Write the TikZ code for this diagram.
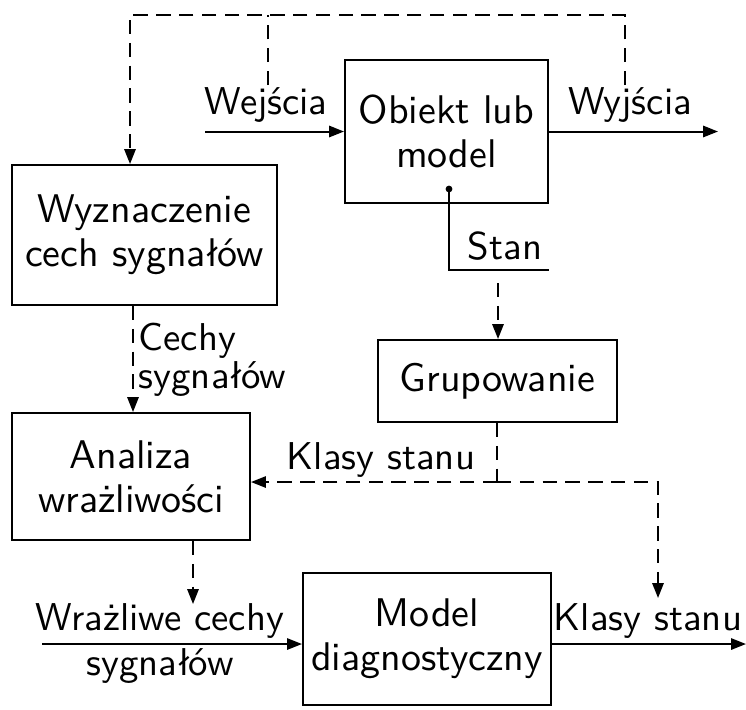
\documentclass[tikz,border=0pt]{standalone}
\usepackage{fontspec}
\usetikzlibrary{arrows.meta}
\begin{document}
\begin{tikzpicture}[x=0.25pt,y=-0.25pt,
  every node/.style={font=\sffamily\fontsize{10}{11}\selectfont},
  blk/.style={draw,line width=0.5pt,align=center,inner sep=0pt},
  lbl/.style={inner sep=0pt,align=center,font=\sffamily\fontsize{9.7}{11}\selectfont},
  ln/.style={line width=0.5pt},
  dsh/.style={line width=0.5pt,dash pattern=on 3.6pt off 2.1pt},
  tip/.style={-{Triangle[length=3.7pt,width=2.8pt]}}]
\useasboundingbox (0,0) rectangle (746,709);

% blocks
\node[blk,minimum width=50.75pt,minimum height=35.75pt] (obj) at (446.5,131.5) {Obiekt lub\\model};
\node[blk,minimum width=66.25pt,minimum height=35pt] (wyz) at (144.5,235) {Wyznaczenie\\cech sygnałów};
\node[blk,minimum width=59.75pt,minimum height=20.5pt] (grup) at (497.5,381) {Grupowanie};
\node[blk,minimum width=59.5pt,minimum height=31.75pt] (anal) at (131,476.5) {Analiza\\wrażliwości};
\node[blk,minimum width=62pt,minimum height=33pt] (model) at (427,639) {Model\\diagnostyczny};

% free ends
\coordinate (inW) at (205,131.5);
\coordinate (outW) at (718,131.5);
\coordinate (wejTap) at (268,85);
\coordinate (wyjTap) at (625,85);
\coordinate (topL) at (130,15);
\coordinate (dot) at (449,189);
\coordinate (stanEnd) at (549,270);
\coordinate (stanTap) at (498,283);
\coordinate (kJ) at (497,482);
\coordinate (kTip) at (658,598);
\coordinate (wrTip) at (193,604);
\coordinate (cechX) at (133,0);
\coordinate (inM) at (42,644);
\coordinate (outM) at (746,644);

% input / output of the object
\draw[ln,tip] (inW) -- (obj.west |- inW);
\draw[ln,tip] (obj.east |- outW) -- (outW);
\node[lbl] (wej) at (266,105) {Wejścia};
\node[lbl] (wyj) at (630,105) {Wyjścia};

% measured signals fed back
\draw[dsh,tip] (wyjTap) |- (topL) -- (wyz.north -| topL);
\draw[dsh] (wejTap) -- (wejTap |- topL);

% state output
\fill (dot) circle (0.85pt);
\draw[ln] (dot) |- (stanEnd);
\node[lbl] (stan) at (505,246) {Stan};
\draw[dsh,tip] (stanTap) -- (grup.north -| stanTap);

% signal features
\draw[dsh,tip] (wyz.south -| cechX) -- (anal.north -| cechX);
\node[lbl,anchor=west,align=left,font=\sffamily\fontsize{9.7}{9.5}\selectfont] (cech) at (138,360) {Cechy\\sygnałów};

% state classes
\draw[dsh] (grup.south -| kJ) -- (kJ);
\draw[dsh,tip] (kJ) -- (anal.east |- kJ);
\draw[dsh,tip] (kJ) -| (kTip);
\node[lbl] (klas1) at (381,460) {Klasy stanu};

% sensitive features into diagnostic model
\draw[dsh,tip] (anal.south -| wrTip) -- (wrTip);
\draw[ln,tip] (inM) -- (model.west |- inM);
\node[lbl] (wr1) at (160,621) {Wrażliwe cechy};
\node[lbl] (wr2) at (160,666) {sygnałów};

% diagnostic output
\draw[ln,tip] (model.east |- outM) -- (outM);
\node[lbl] (klas2) at (648,621) {Klasy stanu};
\end{tikzpicture}
\end{document}
